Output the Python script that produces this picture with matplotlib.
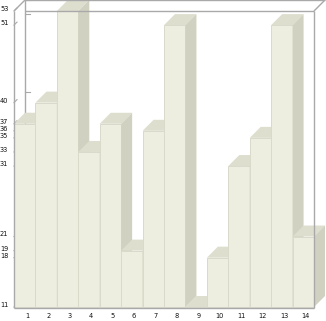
import matplotlib
matplotlib.use("Agg")
import matplotlib.pyplot as plt
from matplotlib.patches import Polygon
import numpy as np

# chart data
categories = [str(i) for i in range(1, 15)]
values = [37, 40, 53, 33, 37, 19, 36, 51, 11, 18, 31, 35, 51, 21]
y_min, y_max = 11, 53
y_labels = sorted(set(values), reverse=True)

front_col = "#EEEEE0"
top_col = "#DEDECF"
side_col = "#D1D1C1"
edge_col = "#DADACB"
frame_col = "#A9A9A9"

W, H = 326, 321
fig = plt.figure(figsize=(W / 100, H / 100), dpi=100)
ax = fig.add_axes([0, 0, 1, 1])
ax.axis("off")

# pixel geometry of the front plane
left_px, right_px = 14, 314
bottom_px, top_px = 307, 11
sx = (right_px - left_px) / len(values)      # px per slot
sy = (bottom_px - top_px) / (y_max - y_min)  # px per unit
ax.set_xlim(-left_px / sx, (W - left_px) / sx)
ax.set_ylim(y_min - (H - bottom_px) / sy, y_min + bottom_px / sy)

dx = 11 / sx  # depth offsets in data units
dy = 11 / sy
n = len(values)

# back wall tick marks
for v in y_labels:
    ax.plot([dx, dx + 5 / sx], [v + dy, v + dy], color=frame_col, lw=0.8, zorder=1)
    ax.plot([0, 3 / sx], [v, v + 3 / sy], color=frame_col, lw=0.8, zorder=1)
ax.plot([dx, dx], [y_min + dy, y_max + dy], color=frame_col, lw=1, zorder=1)

xs = np.arange(n)
bars = ax.bar(xs, np.array(values) - y_min, bottom=y_min, width=1, align="edge",
              color=front_col, edgecolor=edge_col, linewidth=0.7)
for i, (b, v) in enumerate(zip(bars, values)):
    z = 2 + i
    b.set_zorder(z)
    x = xs[i]
    top = [(x, v), (x + 1, v), (x + 1 + dx, v + dy), (x + dx, v + dy)]
    side = [(x + 1, y_min), (x + 1, v), (x + 1 + dx, v + dy), (x + 1 + dx, y_min + dy)]
    ax.add_patch(Polygon(top, closed=True, facecolor=top_col, edgecolor="none", zorder=z))
    ax.add_patch(Polygon(side, closed=True, facecolor=side_col, edgecolor="none", zorder=z))

# frame
zf = 50
lk = dict(color=frame_col, lw=1, zorder=zf, solid_capstyle="butt")
ax.plot([0, 0], [y_min - 1 / sy, y_max], **lk)
ax.plot([0, n], [y_min - 1 / sy, y_min - 1 / sy], **lk)
ax.plot([n, n], [y_min - 1 / sy, y_max], **lk)
ax.plot([dx, n], [y_max, y_max], **lk)
ax.plot([dx, n + dx], [y_max + dy, y_max + dy], **lk)
ax.plot([0, dx], [y_max, y_max + dy], **lk)
ax.plot([n, n + dx], [y_max, y_max + dy], **lk)

# labels
for v in y_labels:
    ax.text(-left_px / sx, v + 0.3, str(v), fontsize=4.8, ha="left", va="center",
            color="#111111", zorder=zf)
for i, c in enumerate(categories):
    ax.text(xs[i] + 0.6, y_min - 9 / sy, c, fontsize=4.8, ha="center", va="center",
            color="#111111", zorder=zf)

fig.savefig("out.png", dpi=100)
